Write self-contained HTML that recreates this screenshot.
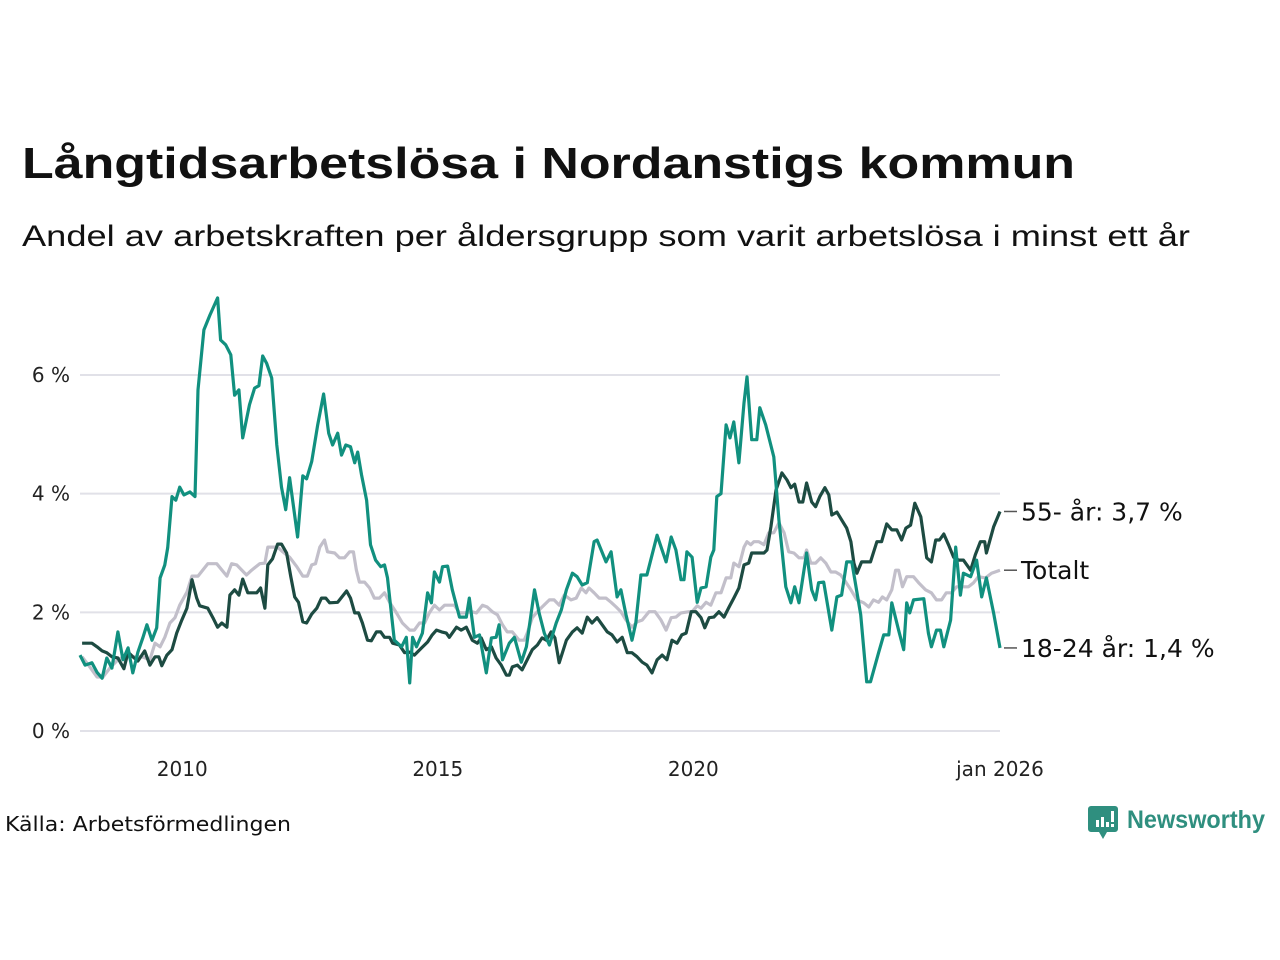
<!DOCTYPE html>
<html><head><meta charset="utf-8"><style>
html,body{margin:0;padding:0;background:#fff;width:1280px;height:960px;overflow:hidden}
svg{display:block;font-family:"Liberation Sans","DejaVu Sans",sans-serif}
.dv{font-family:"DejaVu Sans","Liberation Sans",sans-serif}
</style></head><body>
<svg id="chart" width="1280" height="960" viewBox="0 0 1280 960" xmlns="http://www.w3.org/2000/svg">
<text x="22" y="178" font-size="44" font-weight="bold" fill="#111" textLength="1053" lengthAdjust="spacingAndGlyphs">Långtidsarbetslösa i Nordanstigs kommun</text>
<text x="22" y="246" font-size="30" fill="#111" textLength="1168" lengthAdjust="spacingAndGlyphs">Andel av arbetskraften per åldersgrupp som varit arbetslösa i minst ett år</text>
<g id="grid"></g>
<g id="series"></g>
<g id="labels"></g>
<text class="dv" x="5" y="831" font-size="20" fill="#111" textLength="286" lengthAdjust="spacingAndGlyphs">Källa: Arbetsförmedlingen</text>
<g>
<path d="M1091 806 h24 a3 3 0 0 1 3 3 v20 a3 3 0 0 1 -3 3 h-8 l-4 7 l-4 -7 h-8 a3 3 0 0 1 -3 -3 v-20 a3 3 0 0 1 3 -3z" fill="#2f8f7f"/>
<rect x="1096" y="820" width="3" height="7" fill="#fff"/><rect x="1101" y="817" width="3" height="10" fill="#fff"/><rect x="1106" y="822" width="3" height="5" fill="#fff"/><rect x="1111" y="811" width="3" height="11" fill="#fff"/><rect x="1111" y="824" width="3" height="3" fill="#fff"/>
<text x="1127" y="828" font-size="25" font-weight="bold" fill="#2f8f7f" textLength="138" lengthAdjust="spacingAndGlyphs">Newsworthy</text>
</g>
</svg>
<script>
// months since Jan 2008 and values (%)
const youthM = [0,1.2,2.8,4,5.2,6.3,7.5,8.9,10.1,11.3,12.4,13.6,14.8,15.7,16.9,18,18.8,19.9,20.6,21.6,22.5,23.4,24.4,25.8,27,27.7,29.1,30.5,32.3,33,34.2,35.4,36.3,37.3,38.2,39.8,41,42,42.9,43.8,45,46.2,47.3,48.3,49.2,51.1,52.3,53.2,54.4,55.8,57.2,58.4,59.3,60.5,61.4,62.4,63.5,64.5,65.2,66.1,67.3,68.2,69.4,70.6,71.5,72.2,73.8,75.5,76.6,77.4,78.1,79,80.4,81.6,82.5,83.2,84.4,85.1,86.3,87.4,89.1,90.7,91.4,92.6,93.8,95.4,96.6,97.7,98.4,99.2,100.8,102,103.6,104.8,106.7,107.8,109,110.2,111.8,113,114.2,115.6,116.7,117.9,119.1,120.7,121.4,123.5,124.7,126.1,127,128.2,129.6,130.5,131.7,133.1,135.5,137.6,138.8,139.9,141.1,141.8,142.5,143.7,144.9,145.8,147,148.1,148.8,149.5,150.5,151.7,152.6,153.5,154.7,155.9,156.6,157.7,158.9,159.6,161,162.9,164.1,165.7,166.9,167.8,168.8,170.6,171.8,172.7,173.4,174.6,176.5,177.7,178.8,180,181.2,183.3,184.7,185.6,187.5,188.7,189.9,190.6,192.2,193.4,194.1,194.8,195.7,198.1,199.2,199.9,201.1,202,202.8,204.4,205.6,206.7,207.4,209.1,210.5,211.7,212.8,214.5,216];
const youthV = [1.28,1.11,1.15,0.99,0.89,1.23,1.06,1.67,1.2,1.4,0.98,1.33,1.58,1.79,1.53,1.74,2.58,2.8,3.09,3.95,3.89,4.11,3.98,4.03,3.95,5.75,6.76,7.01,7.3,6.59,6.51,6.34,5.66,5.75,4.94,5.5,5.78,5.82,6.32,6.2,5.95,4.82,4.11,3.73,4.27,3.27,4.3,4.25,4.54,5.16,5.68,5.02,4.82,5.02,4.65,4.82,4.79,4.52,4.7,4.32,3.89,3.14,2.88,2.77,2.8,2.58,1.53,1.42,1.58,0.81,1.58,1.42,1.65,2.33,2.16,2.68,2.51,2.77,2.78,2.38,1.92,1.92,2.24,1.58,1.62,0.98,1.57,1.58,1.79,1.2,1.48,1.58,1.16,1.42,2.38,1.99,1.65,1.45,1.82,2.04,2.38,2.66,2.6,2.46,2.5,3.19,3.22,2.85,3.02,2.26,2.38,1.96,1.53,1.82,2.63,2.63,3.3,2.85,3.27,3.05,2.55,2.55,3.02,2.93,2.17,2.41,2.43,2.93,3.05,3.95,4.0,5.16,4.94,5.21,4.52,5.53,5.97,4.91,4.91,5.45,5.16,4.62,3.56,2.43,2.16,2.43,2.16,3.0,2.38,2.21,2.5,2.51,1.7,2.26,2.29,2.85,2.85,1.96,0.83,0.83,1.32,1.62,1.62,2.16,1.7,1.37,2.16,1.99,2.21,2.23,1.65,1.42,1.7,1.7,1.42,1.87,3.1,2.29,2.66,2.6,2.88,2.26,2.58,1.99,1.4];
const seniorM = [0.5,2.8,4,5.2,6.3,7.5,8.9,10.3,11.3,12.4,13.6,15.2,16.4,17.6,18.5,19.2,20.4,21.6,22.7,23.9,25.1,26.3,27.4,28.1,30,31.2,32.3,33.3,34.5,35.2,36.3,37.3,38.2,39.4,41.5,42.4,43.4,44.1,45.2,46.4,47.3,48.5,49.5,50.4,51.3,52.3,53.2,54.4,55.6,56.7,57.7,58.6,60.5,62.6,63.5,64.5,65.4,66.3,67.5,68.4,69.6,70.6,71.5,72.7,73.4,75,76.2,77.4,78.5,80.2,81.6,82.7,83.7,84.9,86,86.7,88.4,89.5,90.7,92.1,93.3,94.2,95.4,96.6,97.7,98.9,100.1,100.8,101.5,102.7,103.8,105,106.2,107.4,108.5,109.5,110.6,111.5,112.5,114.2,115.6,116.7,117.9,119.1,120.2,121.4,122.6,123.8,124.9,126.1,127.3,128.5,129.6,130.8,132,133.1,134.3,135.5,136.7,137.8,139,140.2,141.3,142.3,143.5,144.6,145.8,146.7,147.7,148.8,150,151.2,152.4,153.5,154.7,155.9,157,157.7,158.9,160.6,161.3,162.2,163.4,164.8,166,166.9,167.8,168.8,169.7,170.6,171.8,172.7,173.7,174.9,175.8,176.5,177.7,178.8,180,181,181.7,182.4,183.5,185.6,187.1,188.2,189.4,190.6,191.8,192.9,193.9,195,196,197.4,198.8,199.9,200.9,201.8,202.8,203.9,205.1,206.3,207.4,209.1,210.2,211.4,212.4,212.8,214.5,216];
const seniorV = [1.48,1.48,1.42,1.35,1.32,1.25,1.23,1.05,1.33,1.25,1.18,1.35,1.11,1.25,1.25,1.1,1.28,1.37,1.65,1.87,2.07,2.55,2.24,2.11,2.07,1.91,1.75,1.82,1.75,2.29,2.38,2.29,2.56,2.33,2.33,2.41,2.07,2.8,2.9,3.15,3.15,3.0,2.6,2.26,2.17,1.84,1.82,1.97,2.07,2.24,2.24,2.16,2.17,2.36,2.24,1.99,1.99,1.82,1.53,1.52,1.67,1.67,1.58,1.58,1.48,1.45,1.32,1.33,1.28,1.4,1.5,1.62,1.7,1.67,1.65,1.58,1.75,1.7,1.75,1.53,1.48,1.57,1.37,1.42,1.23,1.11,0.94,0.94,1.08,1.11,1.03,1.2,1.37,1.45,1.57,1.53,1.67,1.57,1.15,1.53,1.67,1.74,1.65,1.92,1.82,1.91,1.79,1.67,1.62,1.5,1.58,1.32,1.32,1.25,1.16,1.11,0.98,1.2,1.28,1.2,1.53,1.48,1.62,1.65,2.01,2.01,1.91,1.74,1.91,1.92,2.01,1.92,2.09,2.24,2.41,2.8,2.83,3.0,3.0,3.0,3.05,3.44,4.06,4.35,4.23,4.1,4.16,3.86,3.86,4.18,3.86,3.78,3.95,4.1,3.98,3.64,3.69,3.56,3.42,3.19,2.83,2.66,2.85,2.85,3.19,3.19,3.49,3.39,3.39,3.22,3.42,3.47,3.84,3.61,2.92,2.85,3.22,3.22,3.32,3.14,2.93,2.88,2.88,2.71,2.97,3.19,3.19,3.0,3.44,3.7];
const totalM = [0.5,2.3,4,5.4,7,8.9,11,12.9,14.5,16.4,17.6,18.8,19.9,21.1,22.3,23.4,25.1,26.3,27.7,30,32.1,34.5,35.6,36.8,38,39.1,40.3,42.2,43.4,44.1,46.4,47.6,49.2,50.9,52.3,53.4,54.4,55.3,56.3,57.4,58.1,59.8,60.9,62.1,63.3,64.2,64.9,65.6,66.8,68,69.1,70.3,71.5,72.7,74.3,75.7,77.4,78.5,79.7,80.9,82,83.2,84.4,85.6,87.9,89.1,90.2,91.9,93.1,94.5,95.6,96.8,98,99.2,100.3,101.5,103.1,104.3,105,106.2,107.4,108.5,110.2,111.3,112.5,113.7,115.3,116.5,117.7,118.8,119.5,120.7,121.9,123.5,124.7,125.9,127,128.2,129.6,130.8,132,133.6,135,136.4,137.6,138.8,139.9,141.1,143,143.7,144.9,145.8,147,148.1,149.3,150.5,151.7,152.8,153.5,154.7,155.9,156.6,157.5,158.2,159.4,160.6,161.7,162.9,164.1,165.3,166.4,167.6,168.8,170,170.6,171.6,172.7,173.9,175.1,176.3,177.4,178.6,179.8,181,182.4,184,185.2,186.3,187.5,188.4,189.4,190.6,191.5,192.2,193.1,194.1,195.7,196.9,198.5,199.9,201.1,202.3,203.4,204.6,205.8,207.4,208.6,209.8,210.9,212.6,214,216];
const totalV = [1.25,1.08,0.91,0.91,1.06,1.2,1.28,1.25,1.25,1.2,1.48,1.42,1.58,1.82,1.91,2.12,2.34,2.61,2.61,2.82,2.82,2.61,2.82,2.8,2.71,2.63,2.71,2.82,2.83,3.1,3.1,3.02,2.93,2.77,2.61,2.61,2.8,2.82,3.1,3.22,3.02,3.0,2.92,2.92,3.02,3.02,2.71,2.51,2.51,2.41,2.24,2.24,2.33,2.17,1.99,1.82,1.7,1.7,1.82,1.82,1.99,2.12,2.04,2.12,2.12,1.99,1.99,2.01,1.99,2.12,2.09,2.01,1.96,1.79,1.67,1.67,1.53,1.53,1.65,1.91,2.01,2.09,2.21,2.21,2.12,2.29,2.21,2.24,2.41,2.33,2.41,2.33,2.24,2.24,2.17,2.09,2.01,1.87,1.75,1.84,1.87,2.01,2.01,1.87,1.7,1.91,1.92,1.99,2.01,2.01,2.11,2.07,2.17,2.12,2.33,2.33,2.58,2.58,2.83,2.77,3.1,3.19,3.14,3.19,3.19,3.14,3.34,3.34,3.51,3.34,3.02,3.0,2.92,2.92,3.05,2.83,2.83,2.92,2.83,2.68,2.68,2.63,2.51,2.38,2.21,2.16,2.09,2.21,2.17,2.26,2.21,2.38,2.71,2.71,2.43,2.6,2.6,2.5,2.38,2.33,2.21,2.21,2.33,2.33,2.43,2.43,2.43,2.5,2.6,2.58,2.66,2.71];
const yTicks = [0,2,4,6];
const yTickLabels = ["0 %","2 %","4 %","6 %"];
const xTicks = [24,84,144,216];
const xTickLabels = ["2010","2015","2020","jan 2026"];
const endLabels = ["55- år: 3,7 %","Totalt","18-24 år: 1,4 %"];

const NS="http://www.w3.org/2000/svg";
const X0=80, X1=1000, Y0=731, PXPCT=59.33;
const xs = m => X0 + m*(X1-X0)/216;
const ys = v => Y0 - v*PXPCT;
function mk(tag, attrs, parent){const e=document.createElementNS(NS,tag);for(const k in attrs)e.setAttribute(k,attrs[k]);parent.appendChild(e);return e;}
const grid=document.getElementById('grid'), ser=document.getElementById('series'), lab=document.getElementById('labels');
yTicks.forEach((t,i)=>{
  const l=mk('line',{x1:X0,x2:X1,y1:ys(t),y2:ys(t),stroke:'#e1e1e8','stroke-width':2},grid);
  
  
  const tx=mk('text',{x:70,y:ys(t)+7,'font-size':20,fill:'#222','text-anchor':'end','class':'dv'},grid);
  tx.textContent=yTickLabels[i];
  
  
});
xTicks.forEach((t,i)=>{
  const tx=mk('text',{x:xs(t),y:776,'font-size':20,fill:'#222','text-anchor':'middle','class':'dv'},grid);
  tx.textContent=xTickLabels[i];
  
  
});
function line(M,V,color,name){
  const d=M.map((m,i)=>(i?'L':'M')+xs(m).toFixed(1)+' '+ys(V[i]).toFixed(1)).join(' ');
  const p=mk('path',{d:d,fill:'none',stroke:color,'stroke-width':3.2,'stroke-linejoin':'round'},ser);
  
  
}
line(totalM,totalV,'#c2bfca','line-totalt');
line(seniorM,seniorV,'#1d4b42','line-55-ar');
line(youthM,youthV,'#11907f','line-18-24-ar');
const ends=[[seniorV[seniorV.length-1],endLabels[0]],[totalV[totalV.length-1],endLabels[1]],[youthV[youthV.length-1],endLabels[2]]];
ends.forEach(([v,t])=>{
  const y=ys(v);
  const l=mk('line',{x1:1004,x2:1017,y1:y,y2:y,stroke:'#555','stroke-width':1.5},lab);
  
  
  const tx=mk('text',{x:1021,y:y+9,'font-size':25,fill:'#111','class':'dv'},lab);
  tx.textContent=t;
  
  
});
</script>
</body></html>
